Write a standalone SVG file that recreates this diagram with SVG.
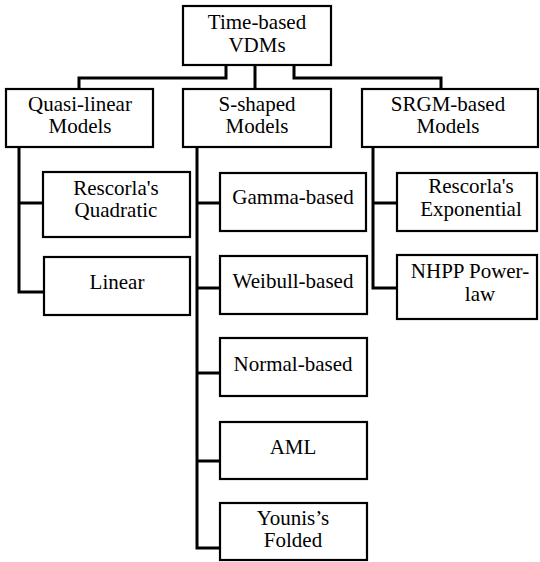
<svg xmlns="http://www.w3.org/2000/svg" width="540" height="562" viewBox="0 0 540 562">
<style>
.box{fill:#fff;stroke:#000;stroke-width:2.2}
.c{fill:none;stroke:#000;stroke-width:3}
</style>
<rect width="540" height="562" fill="#fff"/>
<g id="connectors">
<path class="c" d="M226 65V78H79V89"/>
<path class="c" d="M255 65V89"/>
<path class="c" d="M294 65V78H441V89"/>
<path class="c" d="M19 147V292H44M19 203H43"/>
<path class="c" d="M197 147V548H220M197 203H220M197 288H220M197 373H220M197 461H220"/>
<path class="c" d="M373 147V288H397M373 203H397"/>
</g>
<g font-family="Liberation Serif, Tinos, Times New Roman, DejaVu Serif, serif" font-size="21" text-anchor="middle" fill="#000">
<g id="root"><rect class="box" x="183" y="6" width="148" height="59"/><text x="257" y="29">Time-based</text><text x="257" y="52">VDMs</text></g>
<g id="quasi"><rect class="box" x="6" y="89" width="147" height="58"/><text x="80" y="111">Quasi-linear</text><text x="80" y="133">Models</text></g>
<g id="sshaped"><rect class="box" x="183" y="89" width="148" height="58"/><text x="257" y="111">S-shaped</text><text x="257" y="133">Models</text></g>
<g id="srgm"><rect class="box" x="362" y="89" width="176" height="58"/><text x="448" y="111">SRGM-based</text><text x="448" y="133">Models</text></g>
<g id="quadratic"><rect class="box" x="43" y="172" width="147" height="65"/><text x="116" y="195">Rescorla's</text><text x="116" y="217">Quadratic</text></g>
<g id="linear"><rect class="box" x="44" y="257" width="146" height="58"/><text x="117" y="289">Linear</text></g>
<g id="gamma"><rect class="box" x="220" y="173" width="146" height="58"/><text x="293" y="204">Gamma-based</text></g>
<g id="weibull"><rect class="box" x="220" y="256" width="147" height="58"/><text x="293" y="288">Weibull-based</text></g>
<g id="normal"><rect class="box" x="220" y="338" width="147" height="58"/><text x="293" y="371">Normal-based</text></g>
<g id="aml"><rect class="box" x="220" y="422" width="147" height="57"/><text x="293" y="454">AML</text></g>
<g id="younis"><rect class="box" x="220" y="503" width="147" height="57"/><text x="293" y="525">Younis’s</text><text x="293" y="547">Folded</text></g>
<g id="exponential"><rect class="box" x="397" y="173" width="140" height="58"/><text x="471" y="193">Rescorla's</text><text x="471" y="216">Exponential</text></g>
<g id="nhpp"><rect class="box" x="397" y="255" width="140" height="64"/><text x="470" y="278">NHPP Power-</text><text x="480" y="301">law</text></g>
</g>
</svg>
